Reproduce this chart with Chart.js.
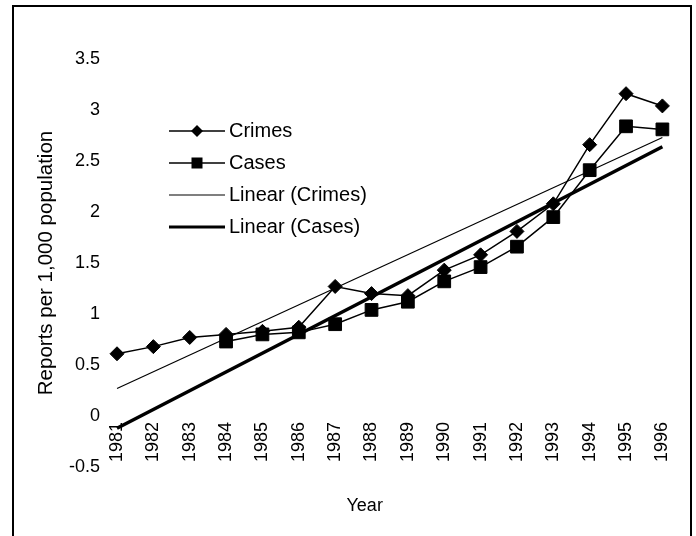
<!DOCTYPE html>
<html>
<head>
<meta charset="utf-8">
<script src="https://cdn.jsdelivr.net/npm/chart.js@4/dist/chart.umd.min.js"></script>
<style>
    body { margin: 0; background: #fff; }
    #frame {
        position: absolute;
        left: 12px;
        top: 5px;
        width: 676px;
        height: 540px;
        border: 2px solid #000;
        border-bottom: none;
    }
    canvas { display: block; }
</style>
</head>
<body>
<div id="frame"><canvas id="reportsChart" width="676" height="529"></canvas></div>
<script>
// Data
const years = ['1981', '1982', '1983', '1984', '1985', '1986', '1987', '1988',
               '1989', '1990', '1991', '1992', '1993', '1994', '1995', '1996'];
const crimes = [0.61, 0.68, 0.77, 0.80, 0.83, 0.87, 1.27, 1.20, 1.18, 1.43, 1.58, 1.81, 2.08, 2.66, 3.16, 3.04];
const cases = [null, null, null, 0.73, 0.80, 0.82, 0.90, 1.04, 1.12, 1.32, 1.46, 1.66, 1.95, 2.41, 2.84, 2.81];
// trend lines: value at 1981 and at 1996
const trendCrimes = [0.27, 2.73];
const trendCases = [-0.12, 2.64];
const yTicks = [-0.5, 0, 0.5, 1, 1.5, 2, 2.5, 3, 3.5];

const FONT = "'Liberation Sans', Arial, sans-serif";

function trendSeries(ends) {
    return years.map((y, i) => i === 0 ? ends[0] : (i === years.length - 1 ? ends[1] : null));
}

// small legend samples: line with the marker in the middle
function legendIcon(marker, lineWidth) {
    const c = document.createElement('canvas');
    c.width = 56;
    c.height = 18;
    const g = c.getContext('2d');
    g.strokeStyle = '#000';
    g.fillStyle = '#000';
    g.lineWidth = lineWidth;
    g.beginPath();
    g.moveTo(0, 9);
    g.lineTo(56, 9);
    g.stroke();
    if (marker === 'diamond') {
        g.beginPath();
        g.moveTo(28, 3);
        g.lineTo(34, 9);
        g.lineTo(28, 15);
        g.lineTo(22, 9);
        g.closePath();
        g.fill();
    } else if (marker === 'square') {
        g.fillRect(22.5, 3.5, 11, 11);
    }
    return c;
}

const icons = [
    legendIcon('diamond', 1.5),
    legendIcon('square', 1.5),
    legendIcon(null, 1.2),
    legendIcon(null, 3)
];

// move the legend box into the upper-left part of the plot
const legendShift = {
    id: 'legendShift',
    afterLayout(chart) {
        const lg = chart.legend;
        lg.left = chart.chartArea.left + 46;
        lg.top = chart.chartArea.top + 50;
        lg.right = lg.left + lg.width;
        lg.bottom = lg.top + lg.height;
    }
};

const ctx = document.getElementById('reportsChart').getContext('2d');
new Chart(ctx, {
    type: 'line',
    data: {
        labels: years,
        datasets: [{
            label: 'Crimes',
            data: crimes,
            borderColor: '#000',
            backgroundColor: '#000',
            borderWidth: 1.5,
            pointStyle: 'rectRot',
            pointRadius: 7,
            pointBorderWidth: 1,
            tension: 0
        }, {
            label: 'Cases',
            data: cases,
            borderColor: '#000',
            backgroundColor: '#000',
            borderWidth: 1.5,
            pointStyle: 'rect',
            pointRadius: 9,
            pointBorderWidth: 1,
            tension: 0
        }, {
            label: 'Linear (Crimes)',
            data: trendSeries(trendCrimes),
            borderColor: '#000',
            borderWidth: 1.2,
            pointRadius: 0,
            spanGaps: true
        }, {
            label: 'Linear (Cases)',
            data: trendSeries(trendCases),
            borderColor: '#000',
            borderWidth: 3.5,
            pointRadius: 0,
            spanGaps: true
        }]
    },
    options: {
        responsive: false,
        animation: false,
        layout: {
            padding: { top: 52, right: 24, bottom: 69, left: 0 }
        },
        plugins: {
            tooltip: { enabled: false },
            legend: {
                position: 'chartArea',
                align: 'start',
                labels: {
                    usePointStyle: true,
                    pointStyleWidth: 44,
                    padding: 12,
                    color: '#000',
                    font: { family: FONT, size: 20 },
                    generateLabels: function(chart) {
                        return chart.data.datasets.map((ds, i) => ({
                            text: ds.label,
                            pointStyle: icons[i],
                            fillStyle: '#000',
                            strokeStyle: '#000',
                            lineWidth: 0,
                            fontColor: '#000',
                            datasetIndex: i
                        }));
                    }
                }
            }
        },
        scales: {
            x: {
                position: { y: 0 },
                offset: false,
                grid: { display: false, drawTicks: false },
                border: { display: false },
                ticks: {
                    autoSkip: false,
                    minRotation: 90,
                    maxRotation: 90,
                    padding: 6,
                    color: '#000',
                    font: { family: FONT, size: 18 }
                },
                title: {
                    display: true,
                    // trailing spaces pull the centred word a little to the left, as in the original
                    text: 'Year          ',
                    color: '#000',
                    padding: { top: 27, bottom: 0 },
                    font: { family: FONT, size: 18 }
                }
            },
            y: {
                min: yTicks[0],
                max: yTicks[yTicks.length - 1],
                afterBuildTicks: function(scale) {
                    scale.ticks = yTicks.map(v => ({ value: v }));
                },
                afterFit: function(scale) {
                    scale.width = 103;
                },
                grid: { display: false, drawTicks: false },
                border: { display: false },
                ticks: {
                    padding: 17,
                    color: '#000',
                    font: { family: FONT, size: 18 },
                    callback: function(value) {
                        return String(value);
                    }
                },
                title: {
                    display: true,
                    text: 'Reports per 1,000 population',
                    color: '#000',
                    padding: { top: 20, bottom: 0 },
                    font: { family: FONT, size: 20.5 }
                }
            }
        }
    },
    plugins: [legendShift]
});
</script>
</body>
</html>
